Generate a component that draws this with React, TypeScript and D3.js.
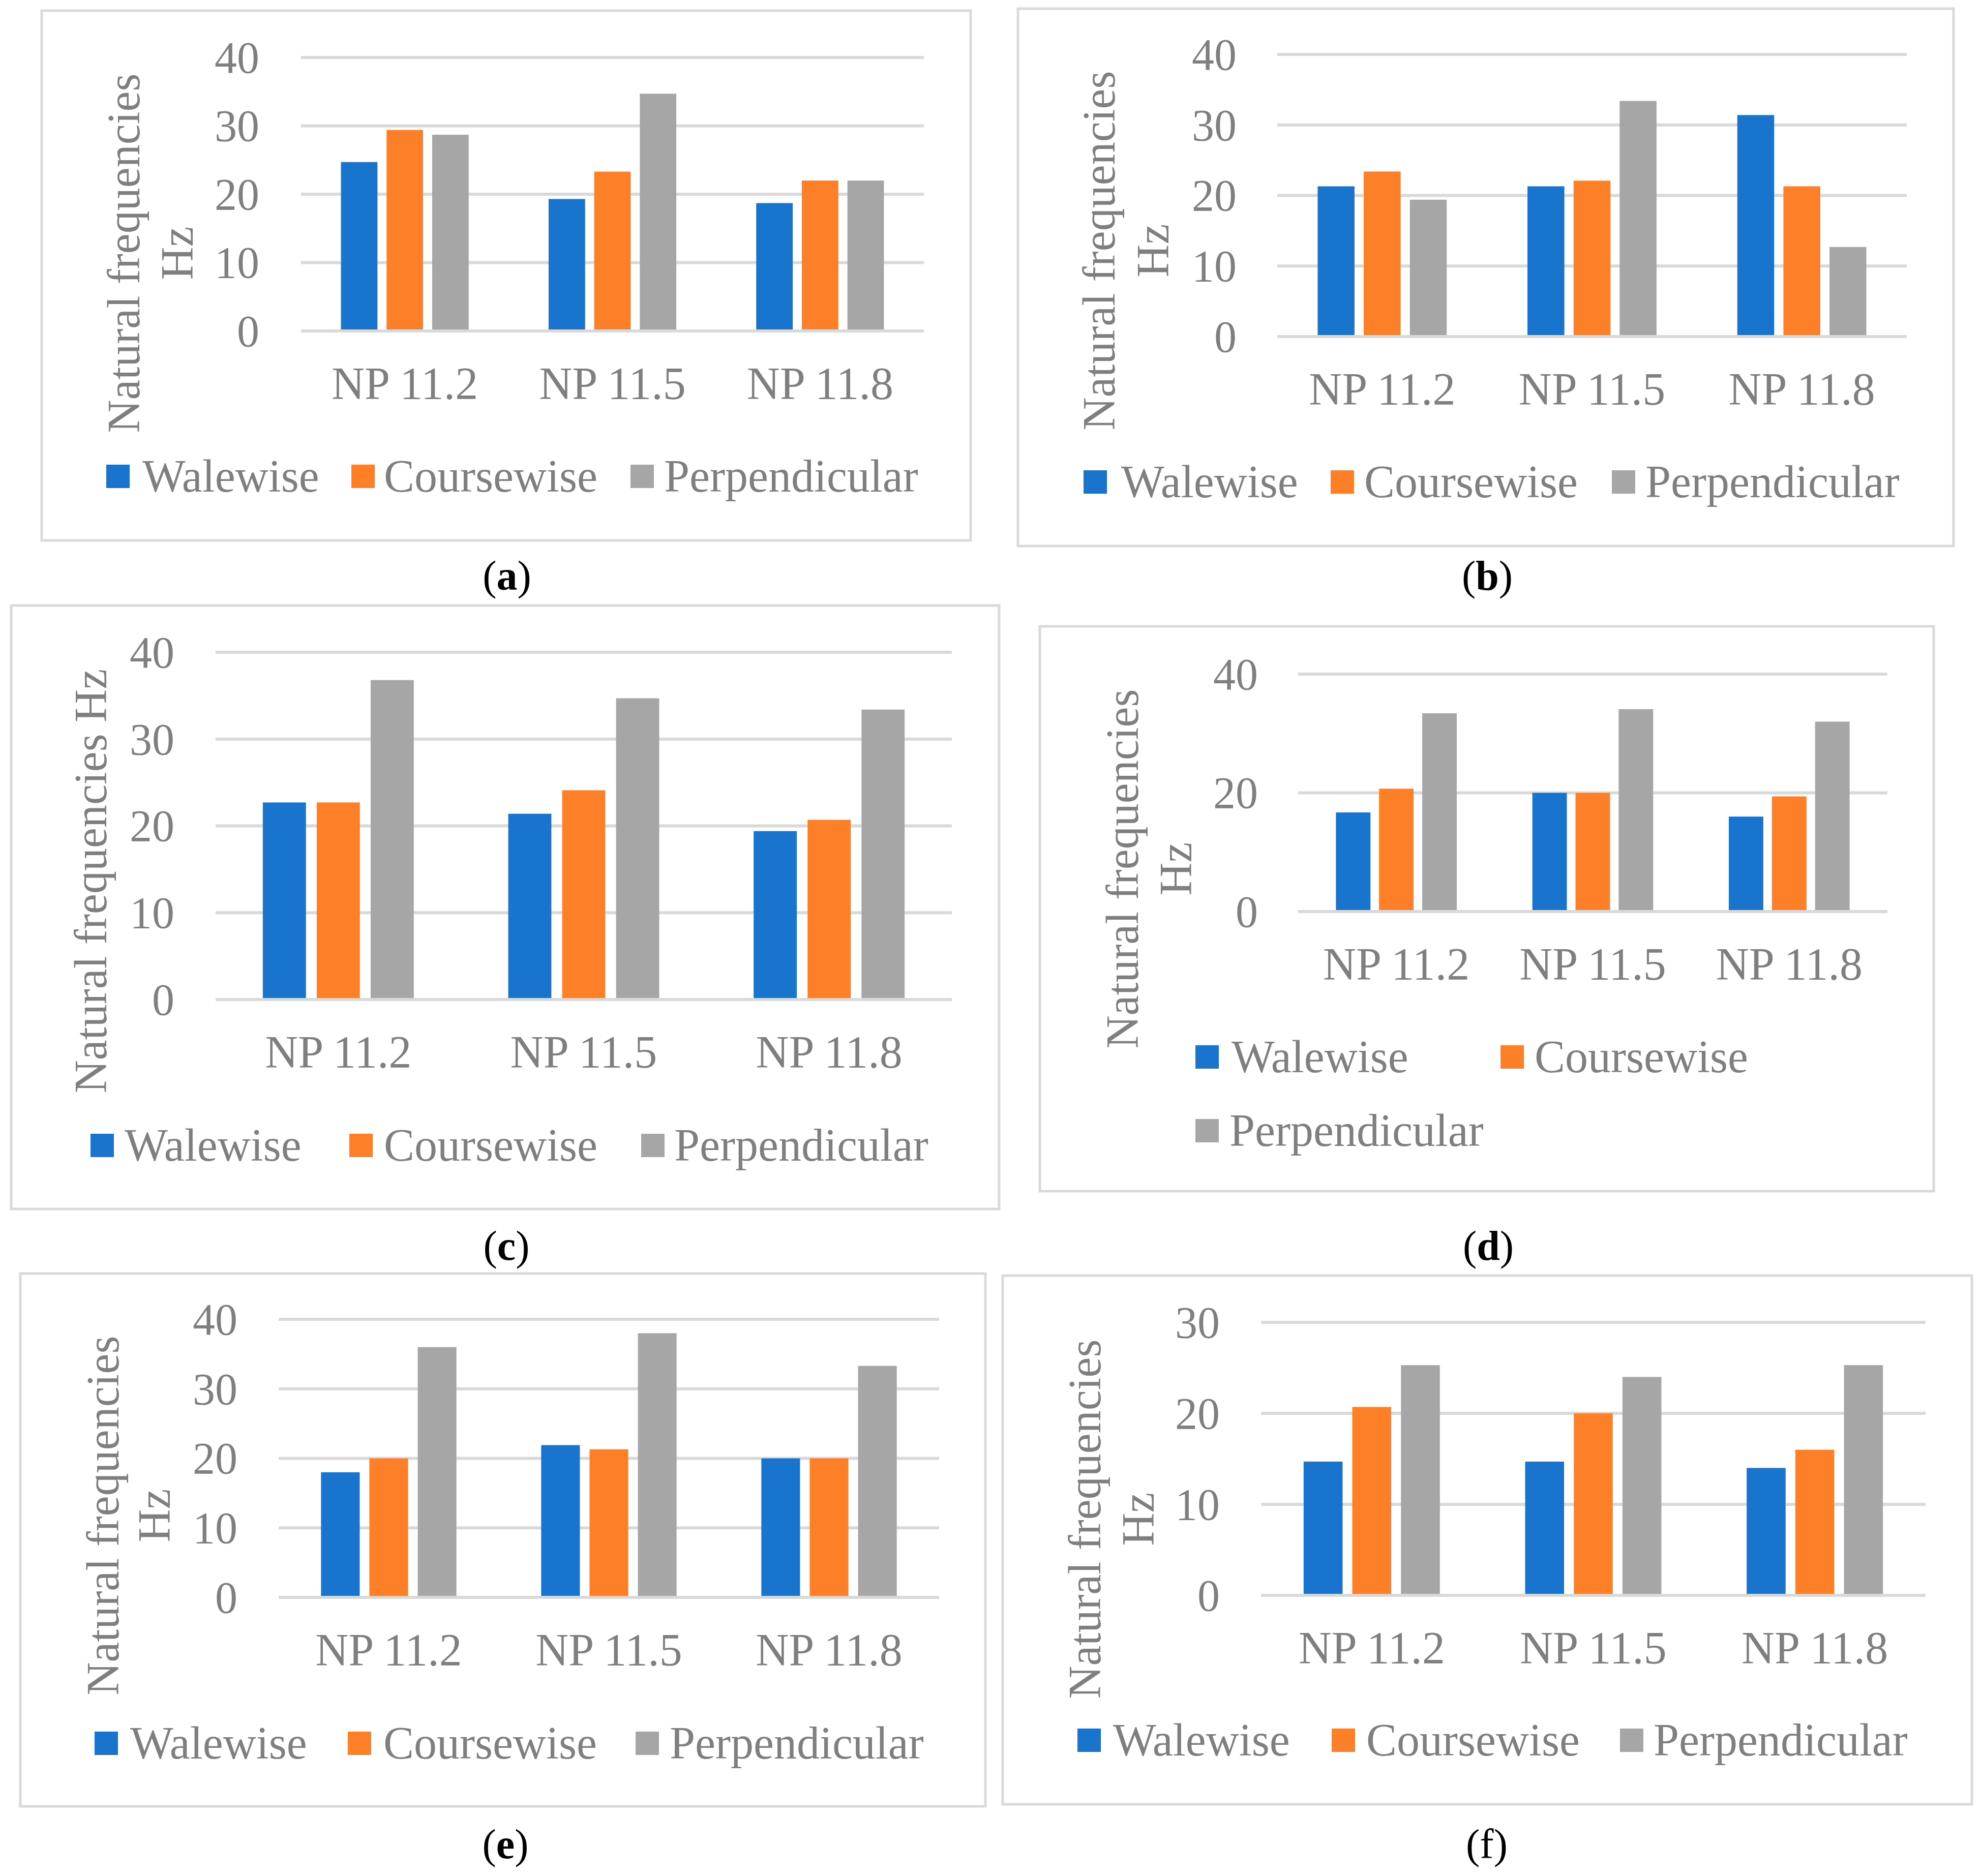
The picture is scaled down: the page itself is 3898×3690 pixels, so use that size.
import React from 'react';
import * as d3 from 'd3';

const categories = ['NP 11.2', 'NP 11.5', 'NP 11.8'];
const seriesNames = ['Walewise', 'Coursewise', 'Perpendicular'];
const seriesColors = ['#1874CD', '#FD7F28', '#A6A6A6'];

// values (Hz)
const walewiseA = [24.7, 19.3, 18.7];
const coursewiseA = [29.4, 23.3, 22.0];
const perpendicularA = [28.7, 34.7, 22.0];

const walewiseB = [21.3, 21.3, 31.4];
const coursewiseB = [23.4, 22.1, 21.3];
const perpendicularB = [19.4, 33.4, 12.7];

const walewiseC = [22.7, 21.4, 19.4];
const coursewiseC = [22.7, 24.1, 20.7];
const perpendicularC = [36.8, 34.7, 33.4];

const walewiseD = [16.7, 20.0, 16.0];
const coursewiseD = [20.7, 20.0, 19.4];
const perpendicularD = [33.4, 34.1, 32.0];

const walewiseE = [18.0, 21.9, 20.0];
const coursewiseE = [20.0, 21.3, 20.0];
const perpendicularE = [36.0, 38.0, 33.3];

const walewiseF = [14.7, 14.7, 14.0];
const coursewiseF = [20.7, 20.0, 16.0];
const perpendicularF = [25.3, 24.0, 25.3];

const ticks40by10 = [0, 10, 20, 30, 40];
const ticks40by20 = [0, 20, 40];
const ticks30by10 = [0, 10, 20, 30];

const FONT = '"Liberation Serif", "Times New Roman", serif';
const TEXT = '#7F7F7F';
const GRID = '#D9D9D9';

type Panel = {
  label: string;
  boldLabel: boolean;
  values: number[][];
  ticks: number[];
  box: [number, number, number, number];
  plotX: [number, number];
  y0: number;
  yTop: number;
  tickRight: number;
  titleLines: string[];
  titleX: number[];
  titleY: number;
  legend: { sw: number; tx: number; y: number }[];
  caption: [number, number];
};

const panels: Panel[] = [
  {
    label: 'a', boldLabel: true, values: [walewiseA, coursewiseA, perpendicularA], ticks: ticks40by10,
    box: [82, 21, 1909, 1063], plotX: [592, 1817], y0: 651, yTop: 113, tickRight: 510,
    titleLines: ['Natural frequencies', 'Hz'], titleX: [243, 348], titleY: 498,
    legend: [{ sw: 209, tx: 280, y: 937 }, { sw: 691, tx: 755, y: 937 }, { sw: 1240, tx: 1306, y: 937 }],
    caption: [997, 1160],
  },
  {
    label: 'b', boldLabel: true, values: [walewiseB, coursewiseB, perpendicularB], ticks: ticks40by10,
    box: [2002, 17, 3842, 1074], plotX: [2512, 3750], y0: 662, yTop: 107, tickRight: 2432,
    titleLines: ['Natural frequencies', 'Hz'], titleX: [2161, 2267], titleY: 493,
    legend: [{ sw: 2131, tx: 2205, y: 948 }, { sw: 2617, tx: 2683, y: 948 }, { sw: 3170, tx: 3236, y: 948 }],
    caption: [2925, 1160],
  },
  {
    label: 'c', boldLabel: true, values: [walewiseC, coursewiseC, perpendicularC], ticks: ticks40by10,
    box: [22, 1191, 1965, 2378], plotX: [424, 1872], y0: 1966, yTop: 1283, tickRight: 343,
    titleLines: ['Natural frequencies Hz'], titleX: [178], titleY: 1733,
    legend: [{ sw: 178, tx: 245, y: 2253 }, { sw: 687, tx: 755, y: 2253 }, { sw: 1261, tx: 1326, y: 2253 }],
    caption: [996, 2478],
  },
  {
    label: 'd', boldLabel: true, values: [walewiseD, coursewiseD, perpendicularD], ticks: ticks40by20,
    box: [2045, 1232, 3803, 2343], plotX: [2553, 3712], y0: 1793, yTop: 1326, tickRight: 2474,
    titleLines: ['Natural frequencies', 'Hz'], titleX: [2207, 2312], titleY: 1709,
    legend: [{ sw: 2351, tx: 2422, y: 2079 }, { sw: 2951, tx: 3018, y: 2079 }, { sw: 2351, tx: 2418, y: 2224 }],
    caption: [2927, 2478],
  },
  {
    label: 'e', boldLabel: true, values: [walewiseE, coursewiseE, perpendicularE], ticks: ticks40by10,
    box: [40, 2505, 1938, 3553], plotX: [548, 1847], y0: 3142, yTop: 2595, tickRight: 467,
    titleLines: ['Natural frequencies', 'Hz'], titleX: [202, 303], titleY: 2981,
    legend: [{ sw: 186, tx: 256, y: 3429 }, { sw: 684, tx: 754, y: 3429 }, { sw: 1250, tx: 1317, y: 3429 }],
    caption: [994, 3655],
  },
  {
    label: 'f', boldLabel: false, values: [walewiseF, coursewiseF, perpendicularF], ticks: ticks30by10,
    box: [1972, 2509, 3878, 3549], plotX: [2480, 3787], y0: 3138, yTop: 2601, tickRight: 2399,
    titleLines: ['Natural frequencies', 'Hz'], titleX: [2133, 2238], titleY: 2988,
    legend: [{ sw: 2119, tx: 2189, y: 3423 }, { sw: 2619, tx: 2687, y: 3423 }, { sw: 3186, tx: 3252, y: 3423 }],
    caption: [2924, 3655],
  },
];

function ChartPanel({ p }: { p: Panel }) {
  const x = d3.scaleBand<string>().domain(categories).range(p.plotX).padding(0);
  const y = d3.scaleLinear().domain([0, d3.max(p.ticks)!]).range([p.y0, p.yTop]);
  // excel defaults: gap width ~219%, overlap -25%
  const bw = x.bandwidth() / (3 + 2 * 0.25 + 2.19);
  const inner = d3.scaleBand<string>().domain(seriesNames).range([-1.75 * bw, 1.75 * bw]).paddingInner(0.2);
  const [bx0, by0, bx1, by1] = p.box;
  const sw = 46;

  return (
    <g>
      <rect x={bx0} y={by0} width={bx1 - bx0} height={by1 - by0} fill="#fff" stroke={GRID} strokeWidth={5} />
      {p.ticks.map(t => (
        <g key={t}>
          <line x1={p.plotX[0]} x2={p.plotX[1]} y1={y(t)} y2={y(t)} stroke={GRID} strokeWidth={6} />
          <text x={p.tickRight} y={y(t)} dy="0.34em" textAnchor="end" fontSize={88} fill={TEXT}>{t}</text>
        </g>
      ))}
      {categories.map((c, ci) => {
        const cx = x(c)! + x.bandwidth() / 2;
        return (
          <g key={c}>
            {seriesNames.map((s, si) => {
              const v = p.values[si][ci];
              return (
                <rect key={s} x={cx + inner(s)!} y={y(v)} width={inner.bandwidth()}
                  height={y(0) - y(v) - 3} fill={seriesColors[si]} />
              );
            })}
            <text x={cx} y={p.y0 + 134} textAnchor="middle" fontSize={90} fill={TEXT}>{c}</text>
          </g>
        );
      })}
      {p.titleLines.map((line, i) => (
        <text key={line} transform={`translate(${p.titleX[i]},${p.titleY}) rotate(-90)`}
          dy="0.34em" textAnchor="middle" fontSize={90} fill={TEXT}>{line}</text>
      ))}
      {seriesNames.map((s, si) => {
        const it = p.legend[si];
        return (
          <g key={s}>
            <rect x={it.sw} y={it.y - sw / 2} width={sw} height={sw} fill={seriesColors[si]} />
            <text x={it.tx} y={it.y} dy="0.33em" fontSize={90} fill={TEXT}>{s}</text>
          </g>
        );
      })}
      <text x={p.caption[0]} y={p.caption[1]} textAnchor="middle" fontSize={82} fill="#000">
        (<tspan fontWeight={p.boldLabel ? 'bold' : 'normal'}>{p.label}</tspan>)
      </text>
    </g>
  );
}

export default function App() {
  return (
    <svg width={3898} height={3690} style={{ position: 'absolute', left: 0, top: 0, background: '#fff' }}
      fontFamily={FONT}>
      <rect width={3898} height={3690} fill="#fff" />
      {panels.map(p => <ChartPanel key={p.label} p={p} />)}
    </svg>
  );
}
